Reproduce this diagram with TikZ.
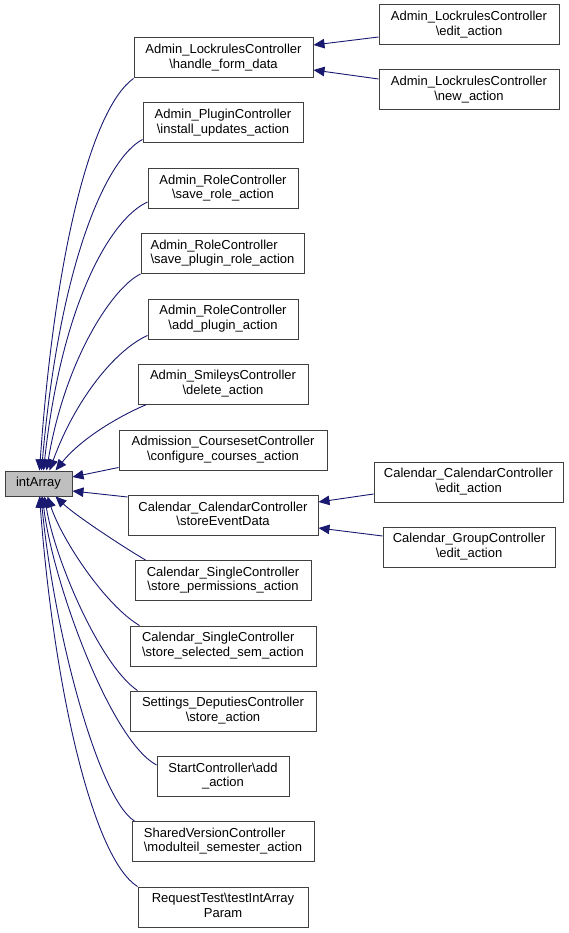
\documentclass[tikz,border=0pt]{standalone}
\usepackage{fontspec}
\setmainfont{Liberation Sans}
\usetikzlibrary{arrows.meta}
\definecolor{edgeblue}{RGB}{25,25,112}
\newcommand{\bsl}{\textbackslash}
\newcommand{\doxlbl}[2]{\begin{tabular}{@{}c@{}}\multicolumn{1}{@{}l@{}}{#1}\\#2\end{tabular}}

\begin{document}
\begin{tikzpicture}[x=1pt, y=-1pt,
    cls/.style={draw=black!75, line width=1pt, fill=white, inner sep=0pt,
      minimum height=40pt, font=\fontsize{13}{14.7}\selectfont},
    dep/.style={-{Triangle[length=11pt,width=9.5pt]}, edgeblue, line width=0.9pt}]
  \useasboundingbox (0,0) rectangle (569,933);

  % Left: the called function
  \node[cls, fill=black!25, minimum width=67pt, minimum height=25pt] (int) at (38.5,483.5) {intArray};

  % Middle: callers
  \node[cls, minimum width=179pt] (hfd) at (223.5,58) {\doxlbl{Admin\_LockrulesController}{\bsl handle\_form\_data}};
  \node[cls, minimum width=160pt] (ins) at (223,123) {\doxlbl{Admin\_PluginController}{\bsl install\_updates\_action}};
  \node[cls, minimum width=150pt] (srole) at (223,188.5) {\doxlbl{Admin\_RoleController}{\bsl save\_role\_action}};
  \node[cls, minimum width=163pt] (sprole) at (222.5,253.5) {\doxlbl{Admin\_RoleController}{\bsl save\_plugin\_role\_action}};
  \node[cls, minimum width=150pt] (addpl) at (223,319) {\doxlbl{Admin\_RoleController}{\bsl add\_plugin\_action}};
  \node[cls, minimum width=170pt] (del) at (223,384) {\doxlbl{Admin\_SmileysController}{\bsl delete\_action}};
  \node[cls, minimum width=208pt] (cfg) at (223,450) {\doxlbl{Admission\_CoursesetController}{\bsl configure\_courses\_action}};
  \node[cls, minimum width=190pt] (sed) at (223,515.5) {\doxlbl{Calendar\_CalendarController}{\bsl storeEventData}};
  \node[cls, minimum width=176pt] (perm) at (223,580.5) {\doxlbl{Calendar\_SingleController}{\bsl store\_permissions\_action}};
  \node[cls, minimum width=186pt] (sel) at (223,646) {\doxlbl{Calendar\_SingleController}{\bsl store\_selected\_sem\_action}};
  \node[cls, minimum width=186pt] (depu) at (223,711) {\doxlbl{Settings\_DeputiesController}{\bsl store\_action}};
  \node[cls, minimum width=132pt] (start) at (223,776.5) {\doxlbl{StartController\bsl add}{\_action}};
  \node[cls, minimum width=182pt] (shv) at (223,841.5) {\doxlbl{SharedVersionController}{\bsl modulteil\_semester\_action}};
  \node[cls, minimum width=170pt] (req) at (223,907) {\doxlbl{RequestTest\bsl testIntArray}{Param}};

  % Right: callers of the callers
  \node[cls, minimum width=180pt] (ledit) at (469,25) {\doxlbl{Admin\_LockrulesController}{\bsl edit\_action}};
  \node[cls, minimum width=180pt] (lnew) at (469,90) {\doxlbl{Admin\_LockrulesController}{\bsl new\_action}};
  \node[cls, minimum width=189pt] (cedit) at (468.5,482) {\doxlbl{Calendar\_CalendarController}{\bsl edit\_action}};
  \node[cls, minimum width=172pt] (gedit) at (469,547) {\doxlbl{Calendar\_GroupController}{\bsl edit\_action}};

  % Edges into intArray, from above
  \draw[dep] (hfd.south west) .. controls (92,108) and (55,250) .. ([xshift=35pt]int.north west);
  \draw[dep] ([yshift=4pt]ins.south west) .. controls (107,158) and (60,260) .. ([xshift=37pt]int.north west);
  \draw[dep] ([yshift=7pt]srole.south west) .. controls (112,218) and (62,300) .. ([xshift=39pt]int.north west);
  \draw[dep] (sprole.south west) .. controls (112,288) and (65,360) .. ([xshift=42pt]int.north west);
  \draw[dep] ([yshift=4pt]addpl.south west) .. controls (115,350) and (75,400) .. ([xshift=45pt]int.north west);
  \draw[dep] ([xshift=9pt]del.south west) .. controls (115,418) and (80,440) .. ([xshift=51pt]int.north west);
  \draw[dep] ([yshift=3pt]cfg.south west) -- ([yshift=6.5pt]int.east);

  % Edges into intArray, from below
  \draw[dep] ([yshift=-2pt]sed.north west) -- ([yshift=-7.5pt]int.east);
  \draw[dep] ([xshift=11pt]perm.north west) .. controls (120,545) and (75,515) .. ([xshift=51pt]int.south west);
  \draw[dep] ([xshift=10pt]sel.north west) .. controls (105,605) and (62,540) .. ([xshift=43pt]int.south west);
  \draw[dep] ([xshift=8pt]depu.north west) .. controls (100,665) and (55,560) .. ([xshift=40pt]int.south west);
  \draw[dep] ([yshift=-9pt]start.north west) .. controls (110,740) and (52,580) .. ([xshift=38pt]int.south west);
  \draw[dep] ([xshift=3pt]shv.north west) .. controls (100,800) and (55,640) .. ([xshift=36.5pt]int.south west);
  \draw[dep] (req.north west) .. controls (95,860) and (55,700) .. ([xshift=35pt]int.south west);

  % Edges from the right column
  \draw[dep] ([yshift=-12pt]ledit.west) -- ([yshift=13pt]hfd.east);
  \draw[dep] ([yshift=11pt]lnew.west) -- ([yshift=-12pt]hfd.east);
  \draw[dep] ([yshift=-12pt]cedit.west) -- ([yshift=13.5pt]sed.east);
  \draw[dep] ([yshift=11pt]gedit.west) -- ([yshift=-12.5pt]sed.east);

\end{tikzpicture}
\end{document}
